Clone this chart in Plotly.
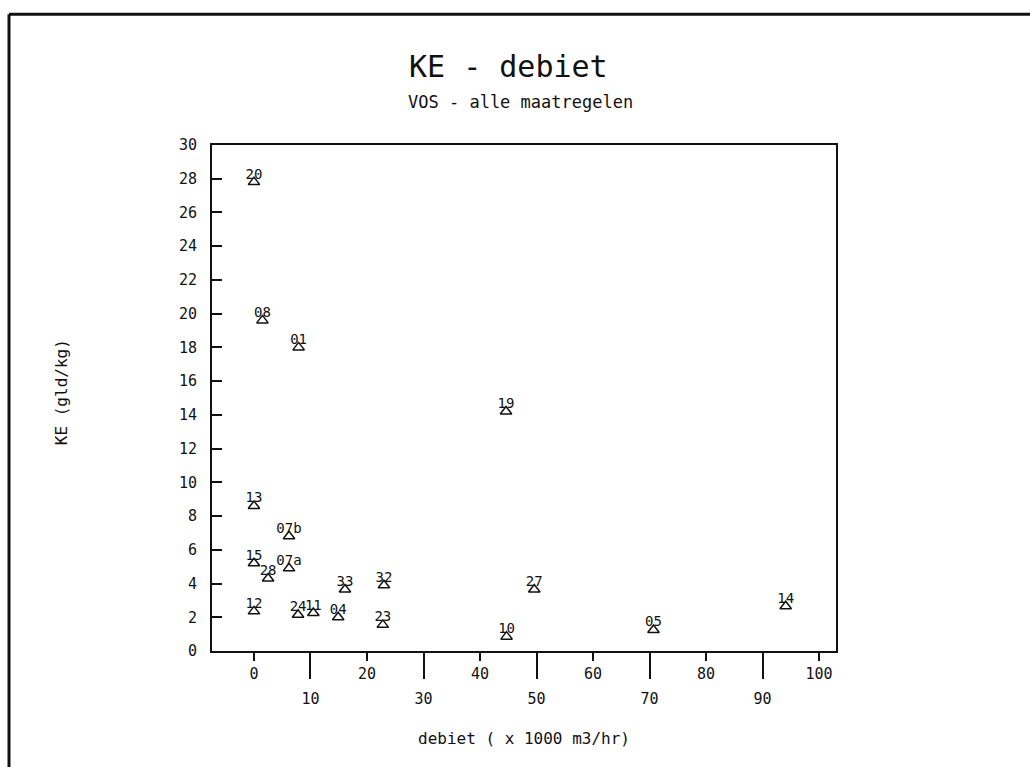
import plotly.graph_objects as go

# Data
labels = ["20", "08", "01", "19", "13", "07b", "15", "07a", "28", "33",
          "32", "12", "24", "11", "04", "23", "10", "27", "05", "14"]
debiet = [0.0, 1.5, 7.9, 44.6, 0.0, 6.2, 0.0, 6.2, 2.5, 16.1,
          23.0, 0.0, 7.8, 10.5, 14.9, 22.8, 44.7, 49.6, 70.7, 94.1]
ke = [27.8, 19.6, 18.0, 14.2, 8.6, 6.8, 5.2, 4.9, 4.3, 3.65,
      3.9, 2.35, 2.15, 2.25, 2.0, 1.55, 0.85, 3.65, 1.25, 2.65]

x_even_ticks = [0, 20, 40, 60, 80, 100]
x_odd_ticks = [10, 30, 50, 70, 90]
y_ticks = [0, 2, 4, 6, 8, 10, 12, 14, 16, 18, 20, 22, 24, 26, 28, 30]

title = "KE - debiet"
subtitle = "VOS - alle maatregelen"
x_title = "debiet ( x 1000 m3/hr)"
y_title = "KE (gld/kg)"

FONT = "DejaVu Sans Mono"
INK = "#111111"
XRANGE = [-7.43, 103.0]

fig = go.Figure()
# triangles
fig.add_trace(go.Scatter(
    x=debiet, y=ke, mode="markers",
    marker=dict(symbol="triangle-up-open", size=10, color=INK,
                line=dict(width=1.5, color=INK)),
    showlegend=False, cliponaxis=False,
))
# point labels, sitting right on top of the triangles
fig.add_trace(go.Scatter(
    x=debiet, y=ke, mode="text", text=labels,
    textposition="top center",
    textfont=dict(family=FONT, size=14, color=INK),
    showlegend=False, cliponaxis=False,
))
# invisible trace to activate second x axis (odd ticks)
fig.add_trace(go.Scatter(x=[debiet[0]], y=[ke[0]], xaxis="x2", mode="markers",
                         marker=dict(opacity=0), showlegend=False,
                         hoverinfo="skip"))

fig.update_layout(
    width=1030, height=767,
    margin=dict(l=212, r=194, t=145, b=116),
    paper_bgcolor="white", plot_bgcolor="white",
    font=dict(family=FONT, color=INK),
    xaxis=dict(range=XRANGE, tickvals=x_even_ticks,
               ticktext=[str(v) for v in x_even_ticks],
               ticks="outside", ticklen=8, tickwidth=1.5, tickcolor=INK,
               showline=True, linewidth=2, linecolor=INK, mirror=True,
               showgrid=False, zeroline=False,
               tickfont=dict(family=FONT, size=15, color=INK)),
    xaxis2=dict(range=XRANGE, overlaying="x", anchor="y", side="bottom",
                tickvals=x_odd_ticks, ticktext=[str(v) for v in x_odd_ticks],
                ticks="outside", ticklen=27, tickwidth=1.5, tickcolor=INK,
                showline=False, showgrid=False, zeroline=False,
                ticklabelstandoff=7,
                tickfont=dict(family=FONT, size=15, color=INK)),
    yaxis=dict(range=[0, 30], tickvals=y_ticks,
               ticktext=[str(v) for v in y_ticks],
               ticks="inside", ticklen=10, tickwidth=1.5, tickcolor=INK,
               showline=True, linewidth=2, linecolor=INK, mirror=True,
               showgrid=False, zeroline=False, ticklabelstandoff=10,
               tickfont=dict(family=FONT, size=15, color=INK)),
    annotations=[
        dict(text=title, xref="paper", yref="paper", x=0.475, y=1.156,
             showarrow=False, font=dict(family=FONT, size=30, color=INK),
             xanchor="center", yanchor="middle"),
        dict(text=subtitle, xref="paper", yref="paper", x=0.4936, y=1.084,
             showarrow=False, font=dict(family=FONT, size=17, color=INK),
             xanchor="center", yanchor="middle"),
        dict(text=x_title, xref="paper", yref="paper", x=0.5, y=-0.172,
             showarrow=False, font=dict(family=FONT, size=16, color=INK),
             xanchor="center", yanchor="middle"),
        dict(text=y_title, xref="paper", yref="paper", x=-0.240, y=0.512,
             showarrow=False, textangle=-90,
             font=dict(family=FONT, size=16, color=INK),
             xanchor="center", yanchor="middle"),
    ],
    shapes=[
        dict(type="line", xref="paper", yref="paper", x0=-0.3253, x1=1.32,
             y0=1.2582, y1=1.2582, line=dict(color=INK, width=3)),
        dict(type="line", xref="paper", yref="paper", x0=-0.3253, x1=-0.3253,
             y0=1.2582, y1=-0.24, line=dict(color=INK, width=3)),
    ],
)

fig.write_html("out.html")
